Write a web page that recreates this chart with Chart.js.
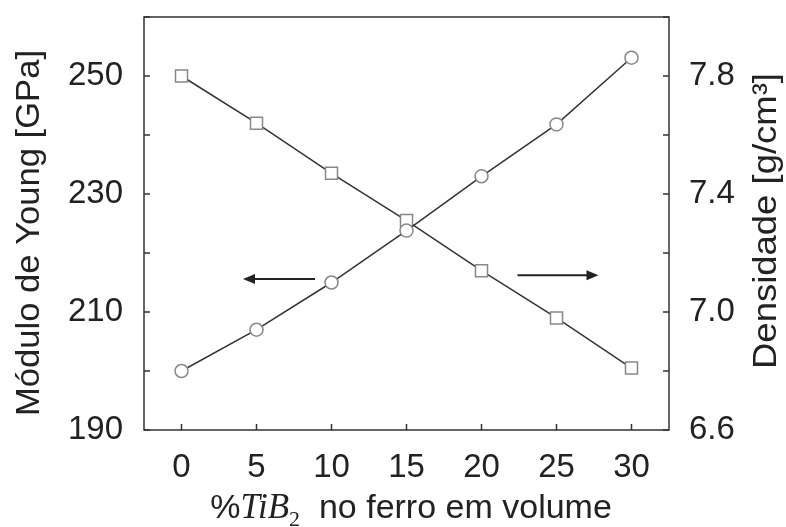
<!DOCTYPE html>
<html>
<head>
<meta charset="utf-8">
<script src="https://cdn.jsdelivr.net/npm/chart.js@4.4.1/dist/chart.umd.min.js"></script>
<style>
  html, body { margin: 0; padding: 0; background: #fff; }
  #wrap { width: 786px; height: 527px; position: relative; }
</style>
</head>
<body>
<div id="wrap"><canvas id="chart"></canvas></div>
<script>
let tib2 = [0, 5, 10, 15, 20, 25, 30]; // % TiB2 em volume
let young = [200.0, 207.0, 215.0, 223.8, 233.0, 241.8, 253.1]; // GPa
let densidade = [7.80, 7.64, 7.47, 7.31, 7.14, 6.98, 6.81]; // g/cm3

let xTicks = [0, 5, 10, 15, 20, 25, 30];
let leftTicks = [190, 210, 230, 250];
let rightTicks = [6.6, 7.0, 7.4, 7.8];

let font = "'Liberation Sans', Arial, sans-serif";
let ink = "#222";

// draw a rotated title stretched to a given length
function vText(c, text, x, y, len) {
  c.save();
  c.translate(x, y);
  c.rotate(-Math.PI / 2);
  let w = c.measureText(text).width;
  c.scale(len / w, 1);
  c.fillText(text, 0, 0);
  c.restore();
}

// inward ticks, box, titles and arrows
let decor = {
  id: "decor",
  afterDraw(chart) {
    let c = chart.ctx;
    let a = chart.chartArea;
    let sx = chart.scales.x, sl = chart.scales.y, sr = chart.scales.y2;
    c.save();
    c.strokeStyle = "#333";
    c.lineWidth = 1.5;
    c.strokeRect(a.left, a.top, a.right - a.left, a.bottom - a.top);

    c.beginPath();
    xTicks.forEach(v => {
      let p = sx.getPixelForValue(v);
      c.moveTo(p, a.bottom); c.lineTo(p, a.bottom - 6);
    });
    for (let v = 190; v <= 260; v += 10) {
      let p = sl.getPixelForValue(v);
      c.moveTo(a.left, p); c.lineTo(a.left + 6, p);
    }
    for (let v = 6.6; v <= 8.0001; v += 0.2) {
      let p = sr.getPixelForValue(v);
      c.moveTo(a.right, p); c.lineTo(a.right - 6, p);
    }
    c.stroke();

    // arrows
    c.fillStyle = ink;
    c.strokeStyle = ink;
    c.lineWidth = 2;
    function arrow(x1, x2, y) {
      let dir = Math.sign(x2 - x1);
      c.beginPath();
      c.moveTo(x1, y); c.lineTo(x2 - dir * 10, y);
      c.stroke();
      c.beginPath();
      c.moveTo(x2, y); c.lineTo(x2 - dir * 12, y - 5); c.lineTo(x2 - dir * 12, y + 5);
      c.closePath(); c.fill();
    }
    arrow(sx.getPixelForValue(8.9), sx.getPixelForValue(4.1), sl.getPixelForValue(215.6));
    arrow(sx.getPixelForValue(22.4), sx.getPixelForValue(27.8), sr.getPixelForValue(7.125));

    // y titles
    c.fillStyle = ink;
    c.font = "34px " + font;
    c.textAlign = "center";
    c.textBaseline = "middle";
    vText(c, "Módulo de Young [GPa]", 30, 233, 366);
    vText(c, "Densidade [g/cm³]", 767, 221, 296);

    // x title with italic TiB2
    let parts = [
      { t: "%", f: "34px " + font, dy: 0 },
      { t: "TiB", f: "italic 35px 'Liberation Serif', 'DejaVu Serif', serif", dy: 0 },
      { t: "2", f: "22px 'Liberation Serif', serif", dy: 8 },
      { t: "  no ferro em volume", f: "34px " + font, dy: 0 }
    ];
    let w = 0;
    parts.forEach(p => { c.font = p.f; w += c.measureText(p.t).width; });
    let x = 411 - w / 2;
    c.textAlign = "left";
    c.textBaseline = "alphabetic";
    parts.forEach(p => {
      c.font = p.f;
      c.fillText(p.t, x, 518 + p.dy);
      x += c.measureText(p.t).width;
    });
    c.restore();
  }
};

let tickFont = { size: 33, family: font };

new Chart(document.getElementById("chart").getContext("2d"), {
  type: "line",
  data: {
    datasets: [
      {
        label: "Módulo de Young",
        data: tib2.map((x, i) => ({ x: x, y: young[i] })),
        yAxisID: "y",
        borderColor: "#333",
        borderWidth: 1.5,
        pointStyle: "circle",
        pointRadius: 6.5,
        pointBorderColor: "#888",
        pointBackgroundColor: "#fff",
        pointBorderWidth: 1.5
      },
      {
        label: "Densidade",
        data: tib2.map((x, i) => ({ x: x, y: densidade[i] })),
        yAxisID: "y2",
        borderColor: "#333",
        borderWidth: 1.5,
        pointStyle: "rect",
        pointRadius: 8.5,
        pointBorderColor: "#888",
        pointBackgroundColor: "#fff",
        pointBorderWidth: 1.5
      }
    ]
  },
  options: {
    responsive: true,
    maintainAspectRatio: false,
    animation: false,
    layout: { padding: { top: 17, left: 0, right: 0, bottom: 0 } },
    plugins: { legend: { display: false }, tooltip: { enabled: false } },
    scales: {
      x: {
        type: "linear",
        min: -2.5,
        max: 32.5,
        afterBuildTicks: s => { s.ticks = xTicks.map(v => ({ value: v })); },
        afterFit: s => { s.height = 97; s.paddingLeft = 0; s.paddingRight = 0; },
        grid: { display: false },
        border: { display: false },
        ticks: { color: ink, font: tickFont, padding: 10, maxRotation: 0 }
      },
      y: {
        position: "left",
        min: 190,
        max: 260,
        afterBuildTicks: s => { s.ticks = leftTicks.map(v => ({ value: v })); },
        afterFit: s => { s.width = 144; s.paddingTop = 0; s.paddingBottom = 0; },
        grid: { display: false },
        border: { display: false },
        ticks: { color: ink, font: tickFont, padding: 13 }
      },
      y2: {
        position: "right",
        min: 6.6,
        max: 8.0,
        afterBuildTicks: s => { s.ticks = rightTicks.map(v => ({ value: v })); },
        afterFit: s => { s.width = 117; s.paddingTop = 0; s.paddingBottom = 0; },
        grid: { display: false },
        border: { display: false },
        ticks: { color: ink, font: tickFont, padding: 12, callback: v => v.toFixed(1) }
      }
    }
  },
  plugins: [decor]
});
</script>
</body>
</html>
